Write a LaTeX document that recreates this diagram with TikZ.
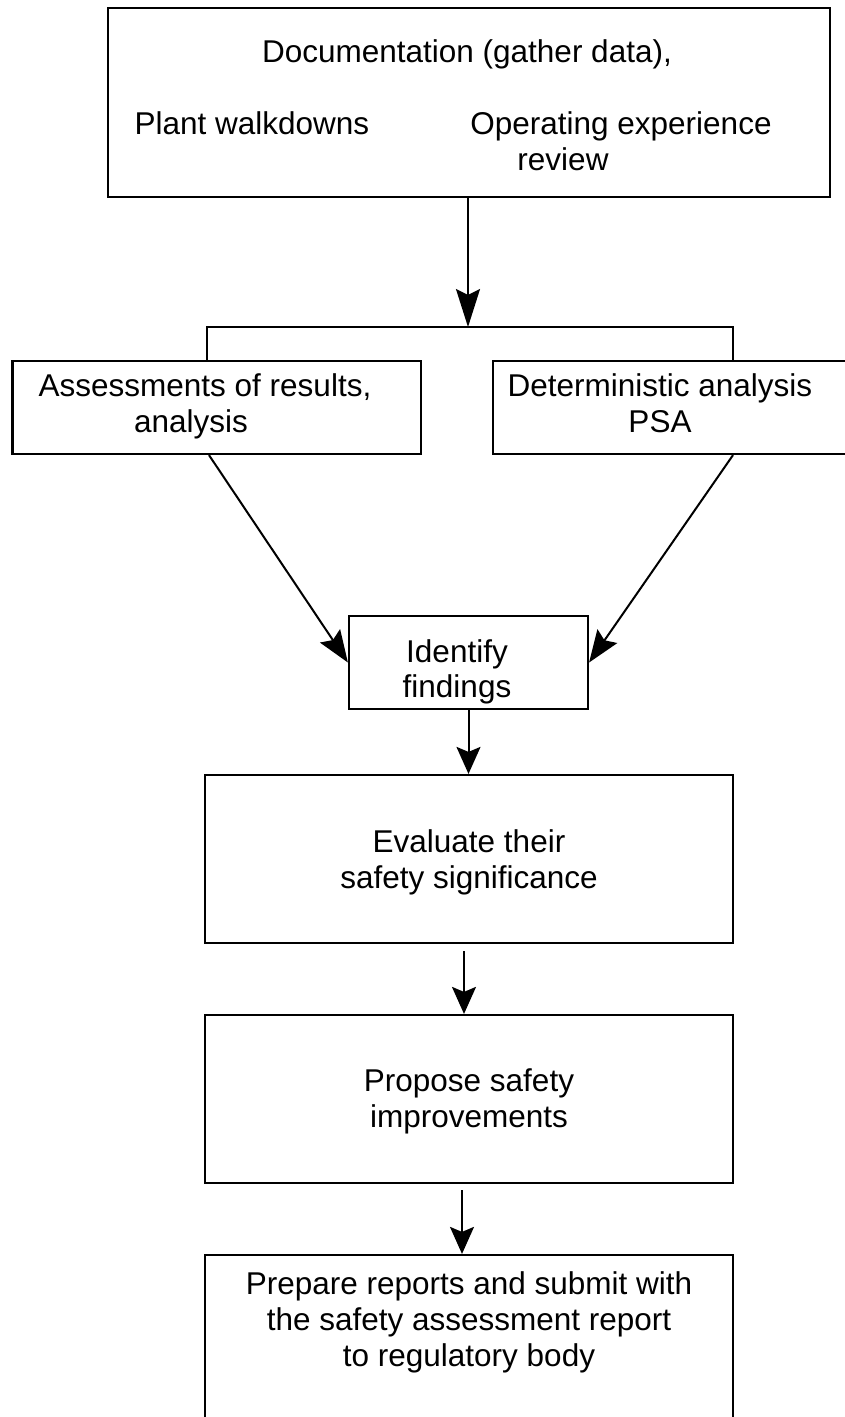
\documentclass[tikz,border=0pt]{standalone}
\usepackage{fontspec}
\setmainfont{Liberation Sans}
\usetikzlibrary{arrows.meta}
\begin{document}
\begin{tikzpicture}[x=1pt,y=-1pt,
  box/.style={draw, line width=2.2pt, rectangle, inner sep=0pt},
  txt/.style={anchor=base, inner sep=0pt, font=\fontsize{31.5}{36}\selectfont},
  conn/.style={line width=2pt},
  arr/.style={line width=2pt, -{Stealth[length=27pt,width=24pt,inset=5pt]}},
  longarr/.style={line width=2pt, -{Stealth[length=38pt,width=24pt,inset=6pt]}},
  diagarr/.style={line width=2pt, -{Stealth[length=32pt,width=24pt,inset=5pt]}},
]
\useasboundingbox (0,0) rectangle (845,1417);
\fill[white] (0,0) rectangle (845,1417);
\clip (0,0) rectangle (845,1417);

% boxes
\node[box, minimum width=722pt, minimum height=189pt] (top) at (469,102.5) {};
\node[box, minimum width=408.5pt, minimum height=93pt] (lbox) at (216.75,407.5) {};
\node[box, minimum width=407pt, minimum height=93pt] (rbox) at (696.5,407.5) {};
\node[box, minimum width=239pt, minimum height=93pt] (ident) at (468.5,662.5) {};
\node[box, minimum width=528pt, minimum height=168pt] (ev) at (469,859) {};
\node[box, minimum width=528pt, minimum height=168pt] (pr) at (469,1099) {};
\node[box, minimum width=528pt, minimum height=190pt] (pp) at (469,1350) {};

% texts
\node[txt] (tdoc) at (467,62) {Documentation (gather data),};
\node[txt] (tplant) at (252,134) {Plant walkdowns};
\node[txt] (toper) at (621,134) {Operating experience};
\node[txt] (trev) at (563,170) {review};
\node[txt] (tass) at (205,396) {Assessments of results,};
\node[txt] (tana) at (191,432) {analysis};
\node[txt] (tdet) at (660,396) {Deterministic analysis};
\node[txt] (tpsa) at (660,432) {PSA};
\node[txt] (tid1) at (457,662) {Identify};
\node[txt] (tid2) at (457,697) {findings};
\node[txt] (tev1) at (469,852) {Evaluate their};
\node[txt] (tev2) at (469,888) {safety significance};
\node[txt] (tpr1) at (469,1091) {Propose safety};
\node[txt] (tpr2) at (469,1127) {improvements};
\node[txt] (tpp1) at (469,1294) {Prepare reports and submit with};
\node[txt] (tpp2) at (469,1330) {the safety assessment report};
\node[txt] (tpp3) at (469,1366) {to regulatory body};

% connectors
\coordinate (split) at (468,327);
\coordinate (sl) at (207,327);
\coordinate (sr) at (733,327);
\draw[longarr] (top.south -| split) -- (split);
\draw[conn] (lbox.north -| sl) -- (sl) -- (sr) -- (rbox.north -| sr);
\draw[diagarr] ([xshift=-7.75pt]lbox.south) -- (ident.west);
\draw[diagarr] ([xshift=36.5pt]rbox.south) -- (ident.east);
\draw[arr] (ident.south) -- (ident.south |- ev.north);
\draw[arr] ([shift={(-5pt,-7pt)}]ev.south) -- ([xshift=-5pt]pr.north);
\draw[arr] ([shift={(-7pt,-6pt)}]pr.south) -- ([xshift=-7pt]pp.north);
\end{tikzpicture}
\end{document}
